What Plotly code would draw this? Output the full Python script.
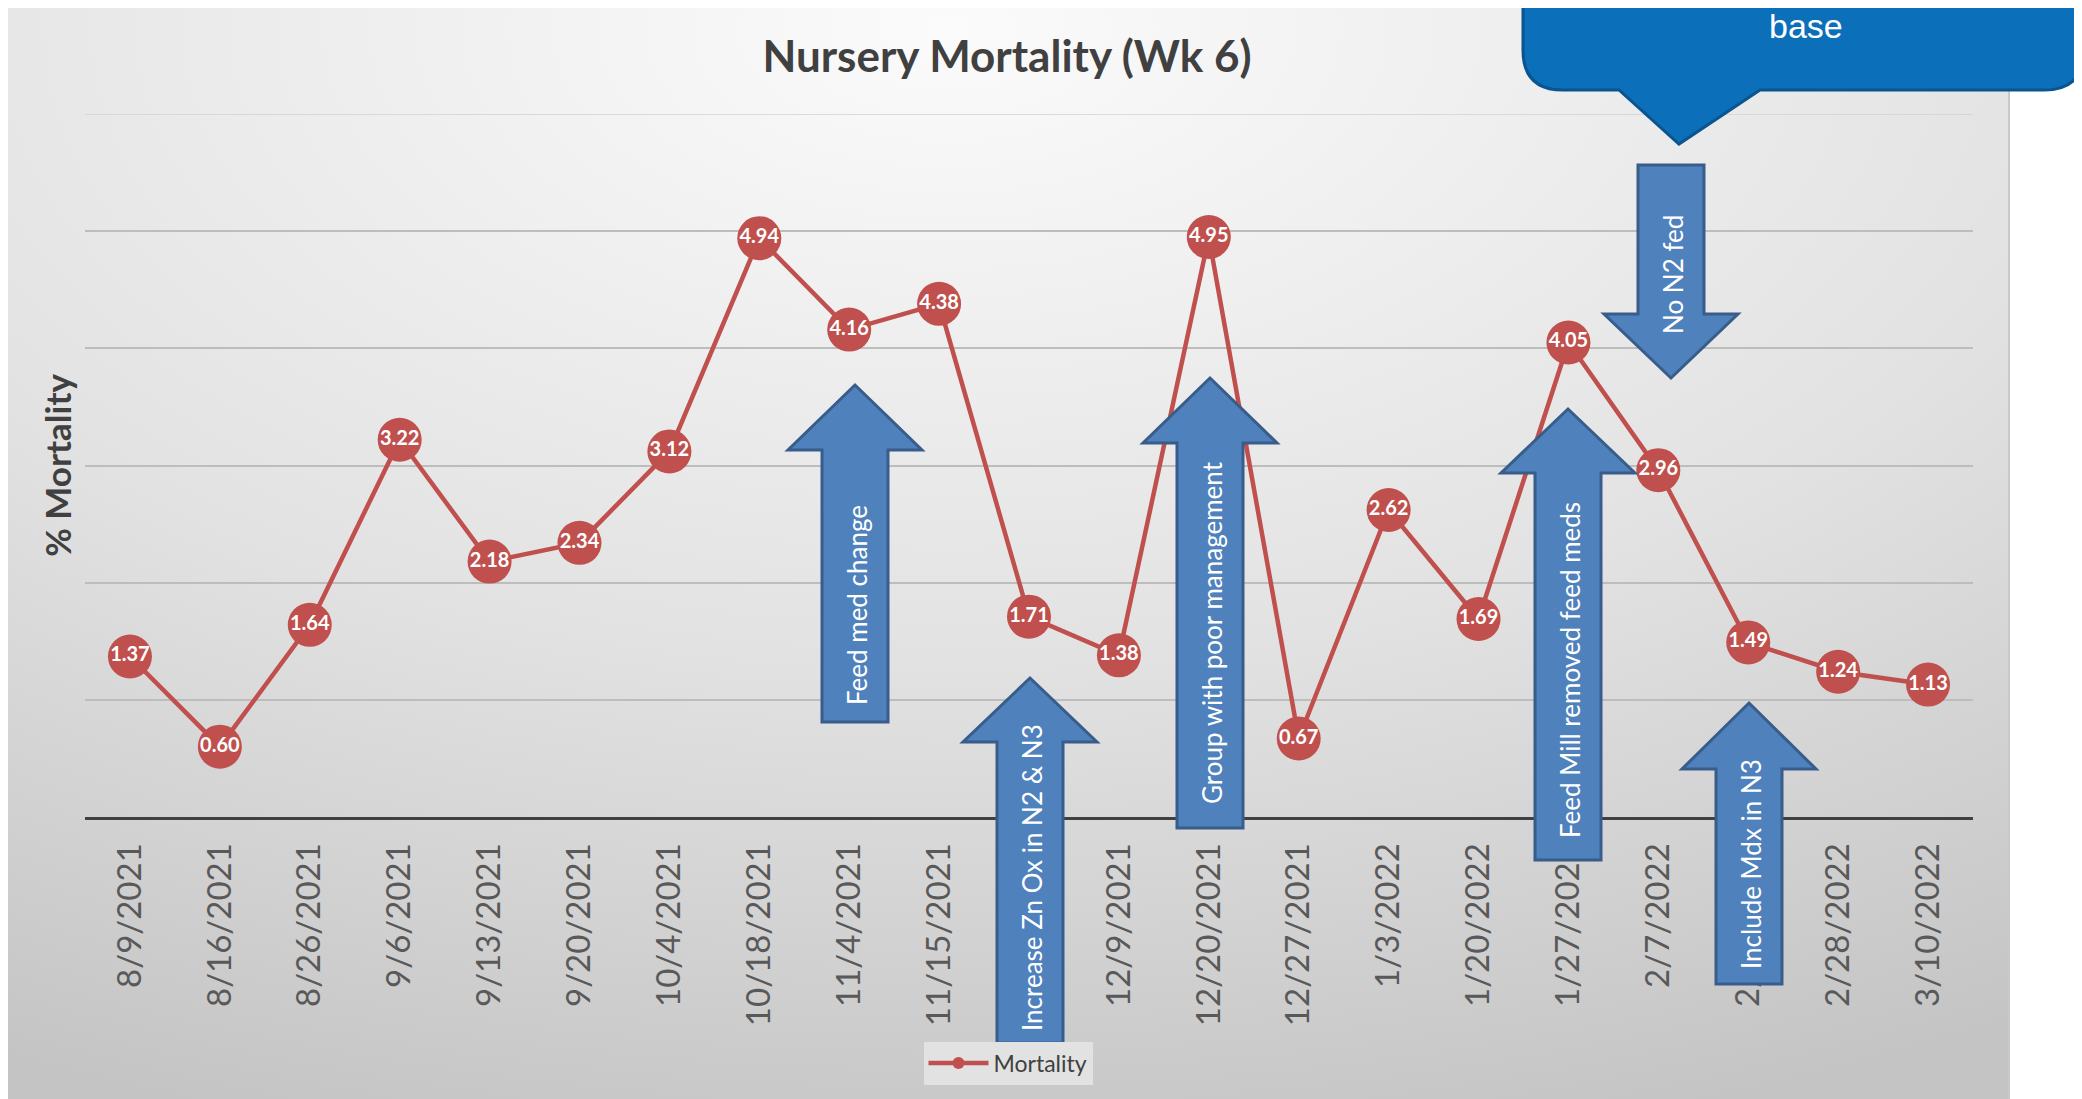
import base64
import plotly.graph_objects as go

# weekly nursery mortality (%), week 6
dates = ["8/9/2021", "8/16/2021", "8/26/2021", "9/6/2021", "9/13/2021", "9/20/2021",
         "10/4/2021", "10/18/2021", "11/4/2021", "11/15/2021", "11/22/2021", "12/9/2021",
         "12/20/2021", "12/27/2021", "1/3/2022", "1/20/2022", "1/27/2022", "2/7/2022",
         "2/14/2022", "2/28/2022", "3/10/2022"]
mortality = [1.37, 0.60, 1.64, 3.22, 2.18, 2.34, 3.12, 4.94, 4.16, 4.38, 1.71,
             1.38, 4.95, 0.67, 2.62, 1.69, 4.05, 2.96, 1.49, 1.24, 1.13]
y_max = 6

# event notes: text, centre x, tip y, head y, end y, text y (screen pixels)
notes = [
    ("Feed med change", 855, 385, 450, 722, 605),
    ("Increase Zn Ox in N2 & N3", 1030, 678, 742, 1043, 877),
    ("Group with poor management", 1210, 378, 443, 828, 633),
    ("Feed Mill removed feed meds", 1568, 409, 473, 860, 670),
    ("Include Mdx in N3", 1749, 703, 769, 984, 864),
    ("No N2 fed", 1671, 378, 314, 165, 275),
]

# the page body adds an 8px margin, so the figure is drawn a bit smaller
OFF = 8
W, H = 2082 - OFF, 1099 - OFF
L, R, T, B = 85, 1973, 114, 817


def px(x):
    return (x - L) / (R - L)


def py(y):
    return (B - y) / (B - T)


def path(points):
    out = []
    for cmd, pts in points:
        out.append(cmd + " ".join(f"{px(x):.5f},{py(y):.5f}" for x, y in pts))
    return " ".join(out) + " Z"


svg = (
    '<svg xmlns="http://www.w3.org/2000/svg" width="2005" height="1094">'
    '<defs><radialGradient id="g" cx="0.47" cy="0.02" r="1.05">'
    '<stop offset="0" stop-color="#fbfbfb"/><stop offset="0.55" stop-color="#e2e2e2"/>'
    '<stop offset="1" stop-color="#c4c4c4"/></radialGradient></defs>'
    '<rect x="1" y="1" width="2003" height="1100" fill="url(#g)" stroke="#c9c9c9" stroke-width="2"/>'
    '</svg>'
)
bg = "data:image/svg+xml;base64," + base64.b64encode(svg.encode()).decode()

fig = go.Figure()

fig.add_trace(go.Scatter(
    x=dates, y=mortality,
    mode="lines+markers+text",
    text=[f"{v:.2f}" for v in mortality],
    textposition="middle center",
    textfont=dict(family="Lato", size=20, color="white", weight="bold"),
    line=dict(color="#c0504d", width=4.5),
    marker=dict(color="#c0504d", size=44),
    showlegend=False,
    cliponaxis=False,
))
fig.add_trace(go.Scatter(
    x=[None], y=[None], name="Mortality",
    mode="lines+markers",
    line=dict(color="#c0504d", width=4.5),
    marker=dict(color="#c0504d", size=12),
))

# top gridline (plotly drops the one sitting on the plot edge)
shapes = [dict(type="line", xref="paper", yref="y", x0=0, x1=1, y0=y_max, y1=y_max,
               layer="below", line=dict(color="#d2d2d2", width=1.5))]
annotations = []
for text, cx, tip, head, end, ty in notes:
    hh, sh = 67, 33
    pts = [(cx, tip), (cx + hh, head), (cx + sh, head), (cx + sh, end),
           (cx - sh, end), (cx - sh, head), (cx - hh, head)]
    shapes.append(dict(
        type="path", xref="paper", yref="paper", layer="above",
        path=path([("M", [pts[0]])] + [("L", [p]) for p in pts[1:]]),
        fillcolor="#4f81bd", line=dict(color="#385d8a", width=3),
    ))
    annotations.append(dict(
        x=px(cx + 2), y=py(ty), xref="paper", yref="paper", text=text,
        showarrow=False, textangle=-90, xanchor="center", yanchor="middle",
        font=dict(family="Lato", size=26, color="white"),
    ))

# callout box at the top right
shapes.append(dict(
    type="path", xref="paper", yref="paper", layer="above",
    path=path([
        ("M", [(1523, -20)]), ("L", [(1523, 50)]), ("Q", [(1523, 90), (1563, 90)]),
        ("L", [(1619, 90)]), ("L", [(1679, 144)]), ("L", [(1760, 90)]),
        ("L", [(2044, 90)]), ("Q", [(2084, 90), (2084, 50)]), ("L", [(2084, -20)]),
    ]),
    fillcolor="#0c6fba", line=dict(color="#0a5590", width=3),
))
annotations.append(dict(
    x=px(1806), y=py(26), xref="paper", yref="paper", text="base",
    showarrow=False, xanchor="center", yanchor="middle",
    font=dict(family="Liberation Sans", size=34, color="white"),
))

fig.update_layout(
    width=W, height=H,
    margin=dict(l=L - OFF, r=OFF + W - R, t=T - OFF, b=OFF + H - B),
    paper_bgcolor="white",
    plot_bgcolor="rgba(0,0,0,0)",
    title=dict(
        text="Nursery Mortality (Wk 6)", xref="container", yref="container",
        x=(1007 - OFF) / W, y=1 - (57 - OFF) / H, xanchor="center", yanchor="middle",
        font=dict(family="Lato", size=44, color="#404040", weight="bold"),
    ),
    legend=dict(
        orientation="h", x=px(1008), y=py(1063), xanchor="center", yanchor="middle",
        bgcolor="#e2e2e2", font=dict(family="Lato", size=23, color="#404040"),
        itemwidth=60,
    ),
    images=[dict(
        source=bg, xref="paper", yref="paper", x=px(5), y=py(5),
        sizex=2005 / (R - L), sizey=1094 / (B - T), sizing="stretch",
        xanchor="left", yanchor="top", layer="below",
    )],
    shapes=shapes,
    annotations=annotations,
)
fig.update_xaxes(
    type="category", range=[-0.5, len(dates) - 0.5],
    showline=True, linecolor="#404040", linewidth=3,
    showgrid=False, tickangle=-90, ticks="", ticklabelstandoff=10,
    tickfont=dict(family="Lato", size=33, color="#595959"),
)
fig.update_yaxes(
    range=[0, y_max], dtick=1, showticklabels=False, zeroline=False,
    gridcolor="#bdbdbd", gridwidth=1.5,
    title=dict(text="% Mortality", standoff=1,
               font=dict(family="Lato", size=35, color="#404040", weight="bold")),
)

fig.write_html("out.html")
